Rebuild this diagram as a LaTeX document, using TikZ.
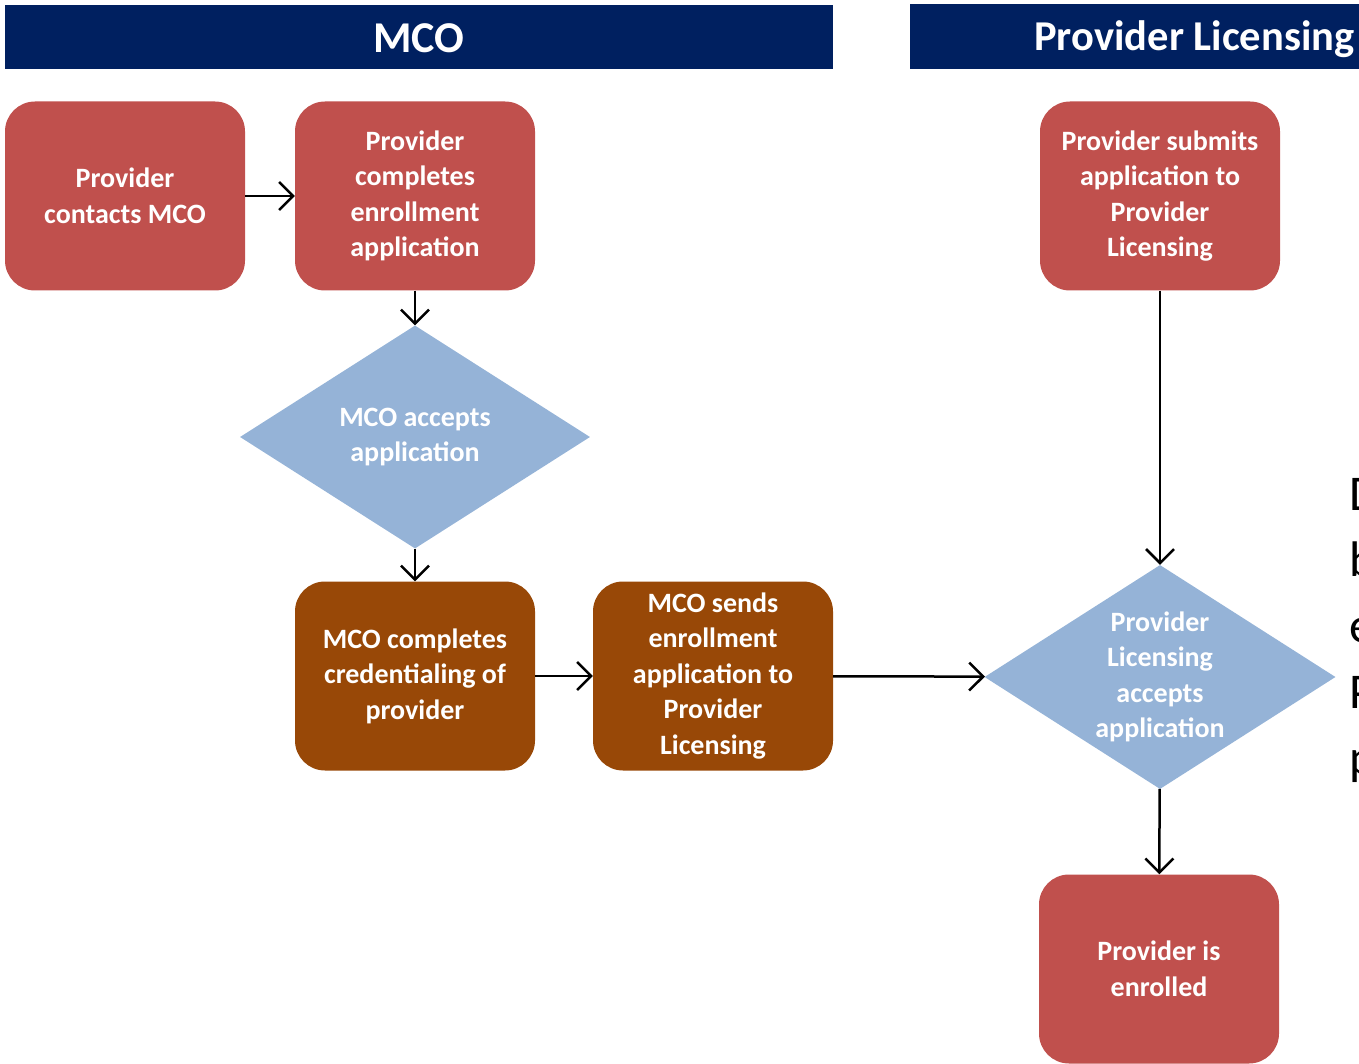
\documentclass[tikz,border=0pt]{standalone}
\usepackage{fontspec}
\setmainfont{Carlito}
\usetikzlibrary{shapes.geometric,arrows.meta}

\definecolor{headblue}{HTML}{002060}
\definecolor{boxred}{HTML}{C0504D}
\definecolor{boxbrown}{HTML}{984807}
\definecolor{boxblue}{HTML}{95B3D7}

\begin{document}
\begin{tikzpicture}[x=1pt,y=-1pt,
  box/.style={rounded corners=30pt, minimum width=240pt, minimum height=189pt, inner sep=0pt,
    text=white, align=center, font=\fontsize{28}{35.5}\selectfont\bfseries},
  redbox/.style={box, fill=boxred},
  brownbox/.style={box, fill=boxbrown},
  decision/.style={diamond, aspect=1.57, inner sep=0pt, fill=boxblue, text=white,
    align=center, font=\fontsize{28}{35.5}\selectfont\bfseries},
  flow/.style={-{Straight Barb[length=14pt,width=28pt]}, line width=2.5pt}]
  \useasboundingbox (0,0) rectangle (1359,1064);

  % lane headers
  \fill [headblue] (5,5) rectangle (833,69);
  \node [text=white, font=\fontsize{44}{50}\selectfont\bfseries] (mcohead) at (419,38) {MCO};
  \fill [headblue] (910,4) rectangle (1370,69);
  \node [anchor=east, text=white, font=\fontsize{42.5}{50}\selectfont\bfseries] (plhead) at (1358,39) {Provider Licensing};

  % MCO lane
  \node [redbox] (contact) at (125,196) {Provider\\contacts MCO};
  \node [redbox] (complete) at (415,196) {Provider\\completes\\enrollment\\application};
  \node [decision, minimum width=350pt, minimum height=223pt] (mcoaccept) at (415,437) {MCO accepts\\application};
  \node [brownbox] (cred) at (415,676) {MCO completes\\credentialing of\\provider};
  \node [brownbox] (send) at (713,676) {MCO sends\\enrollment\\application to\\Provider\\Licensing};

  % Provider Licensing lane
  \node [redbox] (submit) at (1160,196) {Provider submits\\application to\\Provider\\Licensing};
  \node [decision, minimum width=351pt, minimum height=224pt] (placcept) at (1160,677) {Provider\\Licensing\\accepts\\application};
  \node [redbox] (enrolled) at (1159,969) {Provider is\\enrolled};

  % cut-off text at the right edge
  \node [anchor=north west, align=left, inner sep=0pt, font=\fontsize{50}{66}\selectfont] (edge) at (1349,478) {D\\b\\e\\P\\p};

  % connectors
  \draw [flow] (contact) -- (complete);
  \draw [flow] (complete) -- (mcoaccept);
  \draw [flow] (mcoaccept) -- (cred);
  \draw [flow] (cred) -- (send);
  \draw [flow] (send) -- (placcept);
  \draw [flow] (submit) -- (placcept);
  \draw [flow] (placcept) -- (enrolled);
\end{tikzpicture}
\end{document}
